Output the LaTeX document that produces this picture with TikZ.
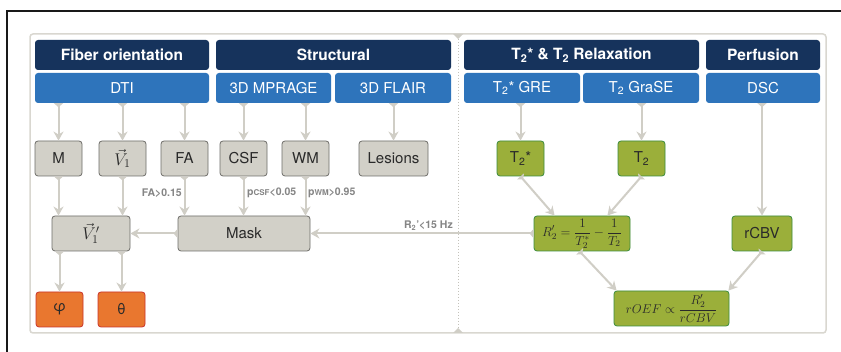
\RequirePackage{fix-cm}
\documentclass[tikz,border=0pt]{standalone}
\usepackage{fontspec}
\setmainfont{TeX Gyre Heros}
\usetikzlibrary{arrows.meta,calc}
\definecolor{navy}{HTML}{16335C}
\definecolor{mblue}{HTML}{2E74BB}
\definecolor{gfill}{HTML}{D2D0C8}
\definecolor{gdraw}{HTML}{6E6D69}
\definecolor{grfill}{HTML}{9BAF3A}
\definecolor{grdraw}{HTML}{3B8C3E}
\definecolor{ofill}{HTML}{E9772F}
\definecolor{odraw}{HTML}{C9332B}
\definecolor{arrc}{HTML}{D0CEC6}
\definecolor{panel}{HTML}{D9D7D0}
\definecolor{lbl}{HTML}{858585}
\definecolor{mtext}{HTML}{2A2A2A}
\newcommand\myfs[1]{\fontsize{#1}{#1}\selectfont}
\newcommand\boxat[7]{\node[#6, minimum width={#4-#2}, minimum height={#5-#3}] (#1) at ({(#2+#4)/2},{(#3+#5)/2}) {#7};}
\begin{document}
\begin{tikzpicture}[x=1pt,y=-1pt,
  base/.style={inner sep=0pt, rounded corners=3pt},
  hdr/.style={base, fill=navy, text=white, font=\myfs{15.5}\bfseries},
  sub/.style={base, fill=mblue, text=white, font=\myfs{15}},
  gbox/.style={base, fill=gfill, draw=gdraw, line width=0.8pt, text=mtext, font=\myfs{15}},
  grbox/.style={base, fill=grfill, draw=grdraw, line width=0.8pt, text=mtext, font=\myfs{15}},
  obox/.style={base, fill=ofill, draw=odraw, line width=0.8pt, text=mtext, font=\myfs{15}},
  arr/.style={draw=arrc, line width=2pt, {Triangle[reversed,length=4pt,width=9pt]}-{Stealth[length=9pt,width=10pt]}},
  lab/.style={inner sep=0pt, text=lbl, font=\myfs{10.5}\bfseries}
]
\useasboundingbox (0,0) rectangle (841,352);
% outer frame (cropped)
\draw[line width=2pt, black!90] (7,353) -- (7,11) -- (842,11);
% panel
\draw[draw=panel, line width=1.5pt, fill=white, rounded corners=3pt] (30,34) rectangle (826,333);
% divider
\draw[draw=arrc!85!gray, line width=1pt, dotted] (458,36) -- (458,331);
\fill[arrc] (453,34) -- (463,34) -- (458,39) -- cycle;
\fill[arrc] (453,333) -- (463,333) -- (458,328) -- cycle;
% headers
\boxat{hfib}{35}{40}{209}{70}{hdr}{Fiber orientation}
\boxat{hstr}{216}{40}{451}{70}{hdr}{Structural}
\boxat{hrel}{464}{40}{699}{70}{hdr}{T\textsubscript{2}* \& T\textsubscript{2} Relaxation}
\boxat{hper}{706}{40}{820}{70}{hdr}{Perfusion}
% sequences
\boxat{dti}{35}{73}{209}{103}{sub}{DTI}
\boxat{mpr}{216}{73}{331}{103}{sub}{3D MPRAGE}
\boxat{fla}{335}{73}{451}{103}{sub}{3D FLAIR}
\boxat{gre}{464}{73}{580}{103}{sub}{T\textsubscript{2}* GRE}
\boxat{gra}{583}{73}{699}{103}{sub}{T\textsubscript{2} GraSE}
\boxat{dsc}{706}{73}{820}{103}{sub}{DSC}
% first level
\boxat{m}{35}{141}{82}{176}{gbox}{M}
\boxat{v}{99}{141}{146}{176}{gbox}{\myfs{17}$\vec{V}_1$}
\boxat{fa}{161}{141}{208}{176}{gbox}{FA}
\boxat{csf}{220}{141}{267}{176}{gbox}{CSF}
\boxat{wm}{282}{141}{329}{176}{gbox}{WM}
\boxat{les}{359}{141}{428}{176}{gbox}{Lesions}
\boxat{t2s}{497}{141}{544}{176}{grbox}{T\textsubscript{2}*}
\boxat{t2}{618}{141}{665}{176}{grbox}{T\textsubscript{2}}
% second level
\boxat{vp}{52}{216}{130}{251}{gbox}{\myfs{17}$\vec{V}_1'$}
\boxat{mask}{178}{216}{310}{251}{gbox}{Mask}
\boxat{r2}{534}{216}{630}{251}{grbox}{\myfs{13}$\displaystyle R_2' = \frac{1}{T_2^*} - \frac{1}{T_2}$}
\boxat{rcbv}{732}{216}{792}{251}{grbox}{rCBV}
% third level
\boxat{phi}{36}{292}{83}{327}{obox}{φ}
\boxat{th}{98}{292}{145}{327}{obox}{θ}
\boxat{roef}{614}{291}{729}{326}{grbox}{\myfs{12.8}$\displaystyle rOEF \propto \frac{R_2'}{rCBV}$}
% arrows from sequences
\draw[arr] (dti.south -| m.north) -- (m.north);
\draw[arr] (dti.south -| v.north) -- (v.north);
\draw[arr] (dti.south -| fa.north) -- (fa.north);
\draw[arr] (mpr.south -| csf.north) -- (csf.north);
\draw[arr] (mpr.south -| wm.north) -- (wm.north);
\draw[arr] (fla.south -| les.north) -- (les.north);
\draw[arr] (gre.south -| t2s.north) -- (t2s.north);
\draw[arr] (gra.south -| t2.north) -- (t2.north);
\draw[arr] (dsc.south -| rcbv.north) -- (rcbv.north);
% to second level
\draw[arr] (m.south) -- (m.south |- vp.north);
\draw[arr] (v.south) -- (v.south |- vp.north);
\draw[arr] (fa.south) -- (fa.south |- mask.north);
\draw[arr] (csf.south) -- (csf.south |- mask.north);
\draw[arr] (wm.south) -- (wm.south |- mask.north);
\draw[arr] (t2s.south) -- ([xshift=21pt]r2.north west);
\draw[arr] (t2.south) -- ([xshift=-23pt]r2.north east);
\draw[arr] (r2.west) -- (mask.east);
\draw[arr] (mask.west) -- (vp.east);
% to third level
\draw[arr] (vp.south -| phi.north) -- (phi.north);
\draw[arr] (vp.south -| th.north) -- (th.north);
\draw[arr] ([xshift=46pt]r2.south west) -- ([xshift=3pt]roef.north west);
\draw[arr] (rcbv.south) -- ([xshift=-1pt]roef.north east);
% labels
\node[lab, anchor=east] (lfa) at (182,193) {FA>0.15};
\node[lab, anchor=west] (lcsf) at (247,193) {p{\myfs{8}CSF}<0.05};
\node[lab, anchor=west] (lwm) at (308,193) {p{\myfs{8}WM}>0.95};
\node[lab, anchor=east] (lr2) at (453,226) {R\textsubscript{2}'<15 Hz};
\end{tikzpicture}
\end{document}
